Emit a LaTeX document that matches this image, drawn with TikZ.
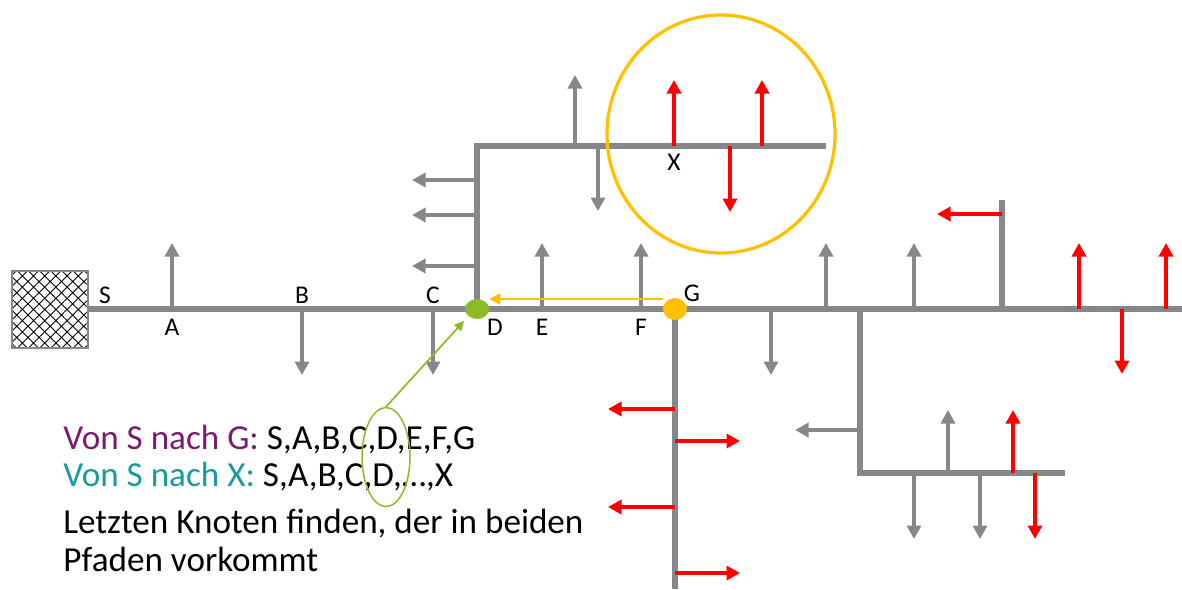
\documentclass[tikz,border=0pt]{standalone}
\usepackage{fontspec}
\setmainfont{Carlito}
\usetikzlibrary{arrows.meta,patterns.meta,shapes.geometric}

\definecolor{wegGrau}{HTML}{86878B}
\definecolor{wegRot}{HTML}{FF0000}
\definecolor{ziel}{HTML}{FFC000}
\definecolor{gruen}{HTML}{8CBB27}
\definecolor{lila}{HTML}{7A1B6E}
\definecolor{petrol}{HTML}{179B9E}

\tikzset{
  weg/.style={draw=wegGrau, line width=0.11cm},
  pfeil/.style={wegGrau, line width=0.08cm, -{Triangle[length=0.27cm,width=0.28cm]}},
  rotpfeil/.style={pfeil, wegRot},
  punkt/.style={ellipse, inner sep=0pt, minimum width=0.48cm},
  marke/.style={font=\fontsize{14.5}{16}\selectfont},
  zeile/.style={anchor=base west, inner sep=0pt, font=\fontsize{20}{24}\selectfont},
}

\begin{document}
\begin{tikzpicture}[x=0.02cm, y=-0.02cm]
  \useasboundingbox (0,0) rectangle (1182,589);
  \coordinate (S) at (88,309);
  \coordinate (D) at (477,309);
  \coordinate (G) at (675,309);
  \coordinate (ende) at (1182,309);
  \coordinate (oben) at (477,146);
  \coordinate (obenEnde) at (826,146);
  \coordinate (unten) at (675,589);
  \coordinate (abzw) at (860,309);
  \coordinate (ecke) at (860,473);
  \coordinate (eckeEnde) at (1065,473);
  \coordinate (mastFuss) at (1002,309);
  \coordinate (mast) at (1002,200);

  % Startfeld
  \draw[wegGrau, line width=1pt, pattern={Hatch[angle=45,distance=4.5pt,line width=0.5pt]}]
    (12,271) rectangle (S |- 0,348);

  % Wege
  \draw[weg] (S) -- (ende);
  \draw[weg] (D) -- (oben) -- (obenEnde);
  \draw[weg] (G) -- (unten);
  \draw[weg] (abzw) -- (ecke) -- (eckeEnde);
  \draw[weg] (mastFuss) -- (mast);

  % Sackgassen
  \foreach \x in {172,542,641,826,914} \draw[pfeil] (\x,309) -- ++(0,-66);
  \foreach \x in {302,433,771} \draw[pfeil] (\x,309) -- ++(0,66);
  \foreach \x in {1079,1166} \draw[rotpfeil] (\x,309) -- ++(0,-66);
  \draw[rotpfeil] (1122,309) -- ++(0,65);
  \foreach \y in {180,215,266} \draw[pfeil] (477,\y) -- ++(-65,0);
  \draw[pfeil] (575,146) -- ++(0,-71);
  \draw[pfeil] (598,146) -- ++(0,65);
  \foreach \x in {674,762} \draw[rotpfeil] (\x,146) -- ++(0,-66);
  \draw[rotpfeil] (730,146) -- ++(0,66);
  \foreach \y in {409,507} \draw[rotpfeil] (675,\y) -- ++(-67,0);
  \foreach \y in {441,573} \draw[rotpfeil] (675,\y) -- ++(65,0);
  \draw[rotpfeil] (1002,214) -- ++(-65,0);
  \draw[pfeil] (860,430) -- ++(-65,0);
  \draw[pfeil] (948,473) -- ++(0,-63);
  \draw[rotpfeil] (1013,473) -- ++(0,-63);
  \foreach \x in {914,980} \draw[pfeil] (\x,473) -- ++(0,66);
  \draw[rotpfeil] (1035,473) -- ++(0,66);

  % Bereich um X
  \draw[ziel, line width=0.065cm] (721,134) ellipse [x radius=114, y radius=119];

  % Knotenpunkte
  \node[punkt, fill=gruen, minimum height=0.4cm] (Dpunkt) at (D) {};
  \node[punkt, fill=ziel, minimum height=0.44cm] (Gpunkt) at (G) {};
  \draw[ziel, line width=0.045cm, -{Triangle[length=0.22cm,width=0.22cm]}]
    ([yshift=0.2cm]Gpunkt.west) -- ([yshift=0.2cm]Dpunkt.east);

  % Beschriftung
  \node[marke] (lS) at (105,295) {S};
  \node[marke] (lA) at (172,327) {A};
  \node[marke] (lB) at (302,295) {B};
  \node[marke] (lC) at (433,295) {C};
  \node[marke] (lD) at (495,327) {D};
  \node[marke] (lE) at (542,327) {E};
  \node[marke] (lF) at (641,327) {F};
  \node[marke] (lG) at (692,293) {G};
  \node[marke] (lX) at (674,162) {X};

  % Pfade
  \node[zeile] (pfadG) at (63,449) {\textcolor{lila}{Von S nach G:} S,A,B,C,D,E,F,G};
  \node[zeile] (pfadX) at (63,486) {\textcolor{petrol}{Von S nach X:} S,A,B,C,D,\dots,X};
  \node[zeile] (hinweis1) at (63,533) {Letzten Knoten finden, der in beiden};
  \node[zeile] (hinweis2) at (63,571) {Pfaden vorkommt};
  \node[draw=gruen, line width=0.03cm, ellipse, inner sep=0pt,
        minimum width=0.96cm, minimum height=1.98cm] (kreis) at (386,457) {};
  \draw[gruen, line width=0.035cm, -{Triangle[length=0.2cm,width=0.18cm]}, shorten >=0.12cm]
    (kreis.north) -- (Dpunkt.south west);
\end{tikzpicture}
\end{document}
